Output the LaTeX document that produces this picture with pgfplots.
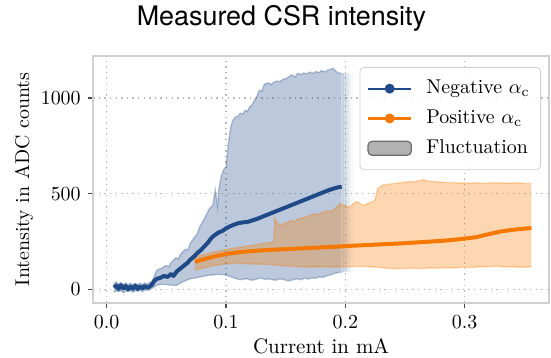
\documentclass[border=0pt]{standalone}
\usepackage{fontspec}
\usepackage{pgfplots}
\pgfplotsset{compat=1.18}
\newfontfamily\titlefont{TeX Gyre Heros}
\definecolor{tblue}{HTML}{204A87}
\definecolor{torange}{HTML}{F57900}
\definecolor{framegray}{HTML}{D0D0D0}
\definecolor{gridgray}{HTML}{B8B8B8}
\pgfplotsset{
  mylegline/.style={legend image code/.code={\draw[mark repeat=2,mark phase=2,##1] plot coordinates {(0bp,0bp) (10.8bp,0bp) (21.6bp,0bp)};}},
  mylegbox/.style={legend image code/.code={\draw[##1] (0bp,-3.5bp) rectangle (21.6bp,3.5bp);}},
}
\begin{document}
\begin{tikzpicture}
\useasboundingbox (-46.65bp,-27.15bp) rectangle (228.9bp,151.4bp);
\begin{axis}[
  at={(0,0)}, anchor=south west,
  width=227.9bp, height=123.4bp, scale only axis,
  xmin=-0.0112, xmax=0.3707, ymin=-70, ymax=1219,
  xtick={0,0.1,0.2,0.3}, ytick={0,500,1000},
  xticklabel style={/pgf/number format/.cd, fixed, fixed zerofill, precision=1},
  yticklabel style={/pgf/number format/.cd, fixed, precision=0, 1000 sep={}},
  grid=major,
  major grid style={gridgray, line width=0.6bp, dash pattern=on 0.7bp off 2.1bp},
  axis line style={framegray, line width=0.8bp},
  tick align=outside, xtick pos=left, ytick pos=left,
  major tick length=2.8bp,
  tick style={black!70, line width=0.6bp},
  ticklabel style={font=\fontsize{10}{12}\selectfont},
  xlabel style={font=\fontsize{10.5}{12.5}\selectfont},
  ylabel style={font=\fontsize{10}{12}\selectfont},
  xlabel shift=-1.8bp, ylabel shift=-3bp,
  xlabel={Current in mA}, ylabel={Intensity in ADC counts},
  legend cell align=left,
  legend style={at={(rel axis cs:1,1)}, anchor=north east, xshift=-4bp, yshift=-5.5bp,
    draw=framegray, rounded corners=2bp, fill=white, fill opacity=0.85, text opacity=1,
    font=\fontsize{10}{12}\selectfont, row sep=2.6bp, inner xsep=3.5bp, inner ysep=4.5bp,
    /tikz/every odd column/.append style={column sep=5bp}},
]
% --- Negative alpha_c: fluctuation band (upper edge, then lower edge reversed)
\addplot[forget plot, draw=none, fill=tblue, fill opacity=0.3] coordinates {
(0.006,30) (0.008,38) (0.010,28) (0.012,35) (0.014,25) (0.016,33) (0.018,24) (0.020,32) (0.022,22)
(0.024,31) (0.026,24) (0.028,32) (0.030,25) (0.032,33) (0.034,28) (0.036,35) (0.038,42) (0.040,70)
(0.042,100) (0.046,110) (0.050,125) (0.052,118) (0.054,140) (0.058,165) (0.060,158) (0.062,185) (0.066,210)
(0.068,205) (0.070,240) (0.074,275) (0.076,290) (0.078,327) (0.082,370) (0.086,420) (0.089,440)
(0.091,519) (0.093,432) (0.094,520) (0.096,590) (0.098,625) (0.100,640) (0.102,760) (0.104,850)
(0.106,885) (0.108,900) (0.110,905) (0.112,920) (0.114,915) (0.116,935) (0.118,930) (0.120,955) (0.122,965) (0.124,990)
(0.126,1010) (0.128,1040) (0.130,1035) (0.132,1070) (0.134,1076) (0.136,1078) (0.138,1070) (0.140,1082) (0.143,1088)
(0.145,1085) (0.148,1098) (0.150,1100) (0.153,1112) (0.155,1120) (0.158,1110) (0.160,1128) (0.163,1122) (0.165,1130)
(0.168,1126) (0.170,1135) (0.173,1128) (0.175,1138) (0.178,1132) (0.180,1142) (0.183,1136) (0.185,1145)
(0.188,1150) (0.190,1155) (0.192,1140) (0.194,1130) (0.197,1130)
(0.197,90) (0.194,88) (0.190,82) (0.187,74) (0.184,70) (0.181,62) (0.178,65) (0.175,58) (0.172,60) (0.169,54)
(0.166,58) (0.163,50) (0.160,55) (0.157,52) (0.154,45) (0.151,46) (0.148,52) (0.145,54) (0.142,48) (0.139,50)
(0.136,55) (0.133,52) (0.130,58) (0.127,56) (0.124,50) (0.121,48) (0.118,55) (0.115,54) (0.112,50) (0.109,55)
(0.106,62) (0.103,68) (0.100,75) (0.097,77) (0.094,78) (0.091,77) (0.088,75) (0.085,73) (0.082,70) (0.079,66)
(0.076,62) (0.073,58) (0.070,55) (0.067,48) (0.064,40) (0.061,30) (0.058,20) (0.054,22) (0.050,25) (0.046,26)
(0.042,22) (0.038,5) (0.036,0) (0.034,-6) (0.032,-4) (0.030,-12) (0.028,-5) (0.026,-10) (0.024,-7) (0.022,-15)
(0.020,-6) (0.018,-12) (0.016,-9) (0.014,-18) (0.012,-6) (0.010,-12) (0.008,-8) (0.006,-15)};
\addplot[forget plot, tblue, opacity=0.3, line width=0.7bp] coordinates {
(0.006,30) (0.008,38) (0.010,28) (0.012,35) (0.014,25) (0.016,33) (0.018,24) (0.020,32) (0.022,22)
(0.024,31) (0.026,24) (0.028,32) (0.030,25) (0.032,33) (0.034,28) (0.036,35) (0.038,42) (0.040,70)
(0.042,100) (0.046,110) (0.050,125) (0.052,118) (0.054,140) (0.058,165) (0.060,158) (0.062,185) (0.066,210)
(0.068,205) (0.070,240) (0.074,275) (0.076,290) (0.078,327) (0.082,370) (0.086,420) (0.089,440)
(0.091,519) (0.093,432) (0.094,520) (0.096,590) (0.098,625) (0.100,640) (0.102,760) (0.104,850)
(0.106,885) (0.108,900) (0.110,905) (0.112,920) (0.114,915) (0.116,935) (0.118,930) (0.120,955) (0.122,965) (0.124,990)
(0.126,1010) (0.128,1040) (0.130,1035) (0.132,1070) (0.134,1076) (0.136,1078) (0.138,1070) (0.140,1082) (0.143,1088)
(0.145,1085) (0.148,1098) (0.150,1100) (0.153,1112) (0.155,1120) (0.158,1110) (0.160,1128) (0.163,1122) (0.165,1130)
(0.168,1126) (0.170,1135) (0.173,1128) (0.175,1138) (0.178,1132) (0.180,1142) (0.183,1136) (0.185,1145)
(0.188,1150) (0.190,1155) (0.192,1140) (0.194,1130) (0.197,1130)};
\addplot[forget plot, tblue, opacity=0.3, line width=0.7bp] coordinates {
(0.006,-15) (0.008,-8) (0.010,-12) (0.012,-6) (0.014,-18) (0.016,-9) (0.018,-12) (0.020,-6) (0.022,-15)
(0.024,-7) (0.026,-10) (0.028,-5) (0.030,-12) (0.032,-4) (0.034,-6) (0.036,0) (0.038,5) (0.042,22)
(0.046,26) (0.050,25) (0.054,22) (0.058,20) (0.061,30) (0.064,40) (0.067,48) (0.070,55) (0.073,58) (0.076,62)
(0.079,66) (0.082,70) (0.085,73) (0.088,75) (0.091,77) (0.094,78) (0.097,77) (0.100,75) (0.103,68)
(0.106,62) (0.109,55) (0.112,50) (0.115,54) (0.118,55) (0.121,48) (0.124,50) (0.127,56) (0.130,58)
(0.133,52) (0.136,55) (0.139,50) (0.142,48) (0.145,54) (0.148,52) (0.151,46) (0.154,45) (0.157,52)
(0.160,55) (0.163,50) (0.166,58) (0.169,54) (0.172,60) (0.175,58) (0.178,65) (0.181,62) (0.184,70)
(0.187,74) (0.190,82) (0.194,88) (0.197,90)};
% fading edge of the band
\addplot[forget plot, draw=none, fill=tblue, fill opacity=0.25] coordinates {(0.1969,90) (0.1991,90) (0.1991,1130) (0.1969,1130)};
\addplot[forget plot, draw=none, fill=tblue, fill opacity=0.19] coordinates {(0.1990,90) (0.2011,90) (0.2011,1130) (0.1990,1130)};
\addplot[forget plot, draw=none, fill=tblue, fill opacity=0.13] coordinates {(0.2010,90) (0.2031,90) (0.2031,1130) (0.2010,1130)};
\addplot[forget plot, draw=none, fill=tblue, fill opacity=0.07] coordinates {(0.2030,90) (0.2051,90) (0.2051,1130) (0.2030,1130)};
\addplot[forget plot, draw=none, fill=tblue, fill opacity=0.03] coordinates {(0.2050,90) (0.2070,90) (0.2070,1130) (0.2050,1130)};
% --- Positive alpha_c: fluctuation band (upper edge, then lower edge reversed)
\addplot[forget plot, draw=none, fill=torange, fill opacity=0.3] coordinates {
(0.074,170) (0.080,180) (0.090,195) (0.100,207) (0.110,218) (0.120,228) (0.130,238) (0.138,246)
(0.140,250) (0.141,371) (0.143,345) (0.146,336) (0.148,342) (0.150,345) (0.153,355) (0.155,360) (0.158,352) (0.160,368)
(0.163,372) (0.165,375) (0.168,380) (0.170,385) (0.173,390) (0.175,395) (0.178,392) (0.180,400) (0.183,405) (0.185,410)
(0.188,408) (0.190,414) (0.193,430) (0.196,449) (0.198,438) (0.200,440) (0.202,430) (0.204,432) (0.207,450) (0.210,458)
(0.213,445) (0.216,440) (0.218,448) (0.220,452) (0.223,458) (0.225,470) (0.227,525) (0.230,540) (0.232,545)
(0.236,548) (0.240,552) (0.245,556) (0.250,560) (0.255,562) (0.260,565) (0.265,572) (0.270,565) (0.275,563) (0.280,560)
(0.285,558) (0.290,558) (0.295,555) (0.300,556) (0.305,554) (0.310,557) (0.315,553) (0.320,555) (0.325,557)
(0.330,556) (0.335,554) (0.340,555) (0.345,557) (0.350,553) (0.356,552)
(0.356,118) (0.350,116) (0.345,116) (0.340,118) (0.334,117) (0.327,120) (0.318,118) (0.310,117) (0.305,114)
(0.299,115) (0.292,112) (0.285,113) (0.278,111) (0.270,112) (0.263,108) (0.257,110) (0.248,109) (0.240,108)
(0.235,110) (0.230,114) (0.222,117) (0.215,120) (0.208,119) (0.200,118) (0.190,117) (0.180,118) (0.170,117)
(0.162,118) (0.156,120) (0.150,122) (0.142,126) (0.134,131) (0.127,132) (0.120,133) (0.113,135) (0.106,136)
(0.100,133) (0.090,125) (0.080,110) (0.074,101)};
\addplot[forget plot, torange, opacity=0.3, line width=0.7bp] coordinates {
(0.074,170) (0.080,180) (0.090,195) (0.100,207) (0.110,218) (0.120,228) (0.130,238) (0.138,246)
(0.140,250) (0.141,371) (0.143,345) (0.146,336) (0.148,342) (0.150,345) (0.153,355) (0.155,360) (0.158,352) (0.160,368)
(0.163,372) (0.165,375) (0.168,380) (0.170,385) (0.173,390) (0.175,395) (0.178,392) (0.180,400) (0.183,405) (0.185,410)
(0.188,408) (0.190,414) (0.193,430) (0.196,449) (0.198,438) (0.200,440) (0.202,430) (0.204,432) (0.207,450) (0.210,458)
(0.213,445) (0.216,440) (0.218,448) (0.220,452) (0.223,458) (0.225,470) (0.227,525) (0.230,540) (0.232,545)
(0.236,548) (0.240,552) (0.245,556) (0.250,560) (0.255,562) (0.260,565) (0.265,572) (0.270,565) (0.275,563) (0.280,560)
(0.285,558) (0.290,558) (0.295,555) (0.300,556) (0.305,554) (0.310,557) (0.315,553) (0.320,555) (0.325,557)
(0.330,556) (0.335,554) (0.340,555) (0.345,557) (0.350,553) (0.356,552)};
\addplot[forget plot, torange, opacity=0.3, line width=0.7bp] coordinates {
(0.074,101) (0.080,110) (0.090,125) (0.100,133) (0.106,136) (0.113,135) (0.120,133) (0.127,132) (0.134,131)
(0.142,126) (0.150,122) (0.156,120) (0.162,118) (0.170,117) (0.180,118) (0.190,117) (0.200,118) (0.208,119)
(0.215,120) (0.222,117) (0.230,114) (0.235,110) (0.240,108) (0.248,109) (0.257,110) (0.263,108) (0.270,112)
(0.278,111) (0.285,113) (0.292,112) (0.299,115) (0.305,114) (0.310,117) (0.318,118) (0.327,120) (0.334,117)
(0.340,118) (0.345,116) (0.350,116) (0.356,118)};
% --- mean lines
\addplot[forget plot, tblue, line width=2bp, line join=round] coordinates {
(0.006,10) (0.008,20) (0.010,2) (0.012,22) (0.014,5) (0.016,18) (0.018,0) (0.020,15) (0.022,3)
(0.024,20) (0.026,2) (0.028,15) (0.030,5) (0.032,18) (0.034,8) (0.036,15) (0.038,25) (0.040,45)
(0.042,55) (0.045,60) (0.048,70) (0.051,65) (0.054,80) (0.056,70) (0.059,95) (0.062,110) (0.065,125)
(0.068,140) (0.070,155) (0.073,170) (0.076,190) (0.079,205) (0.082,225) (0.085,245) (0.088,270)
(0.091,285) (0.094,298) (0.097,305) (0.100,318) (0.103,328) (0.106,336) (0.110,345) (0.114,350)
(0.118,352) (0.122,360) (0.126,368) (0.130,378) (0.134,388) (0.138,398) (0.142,408) (0.146,418)
(0.150,428) (0.154,438) (0.158,448) (0.162,458) (0.166,468) (0.170,478) (0.174,488) (0.178,498)
(0.182,508) (0.186,518) (0.190,526) (0.194,533) (0.197,536)};
\addplot[forget plot, torange, line width=2bp, line join=round] coordinates {
(0.074,144) (0.080,155) (0.086,165) (0.092,175) (0.098,182) (0.104,188) (0.110,193) (0.116,197)
(0.122,200) (0.128,203) (0.134,205) (0.140,207) (0.150,210) (0.160,213) (0.170,216) (0.180,219)
(0.190,222) (0.200,226) (0.210,229) (0.220,232) (0.230,235) (0.240,238) (0.250,241) (0.260,245)
(0.270,249) (0.280,253) (0.290,258) (0.300,265) (0.310,273) (0.320,288) (0.330,302) (0.340,311)
(0.350,317) (0.356,320)};
% --- legend
\addlegendimage{mylegline, tblue, line width=1.1bp, fill opacity=1, mark=*, mark size=1.9bp, mark options={solid, fill=tblue, fill opacity=1}}
\addlegendentry{Negative $\alpha_\mathrm{c}$}
\addlegendimage{mylegline, torange, line width=1.1bp, fill opacity=1, mark=*, mark size=1.9bp, mark options={solid, fill=torange, fill opacity=1}}
\addlegendentry{Positive $\alpha_\mathrm{c}$}
\addlegendimage{mylegbox, fill=gray!60, fill opacity=1, draw=gray!85!black, line width=0.6bp}
\addlegendentry{Fluctuation}
\end{axis}
\node[font=\titlefont\fontsize{13.5}{16}\selectfont] at (94.1bp,142.4bp) {Measured CSR intensity};
\end{tikzpicture}
\end{document}
